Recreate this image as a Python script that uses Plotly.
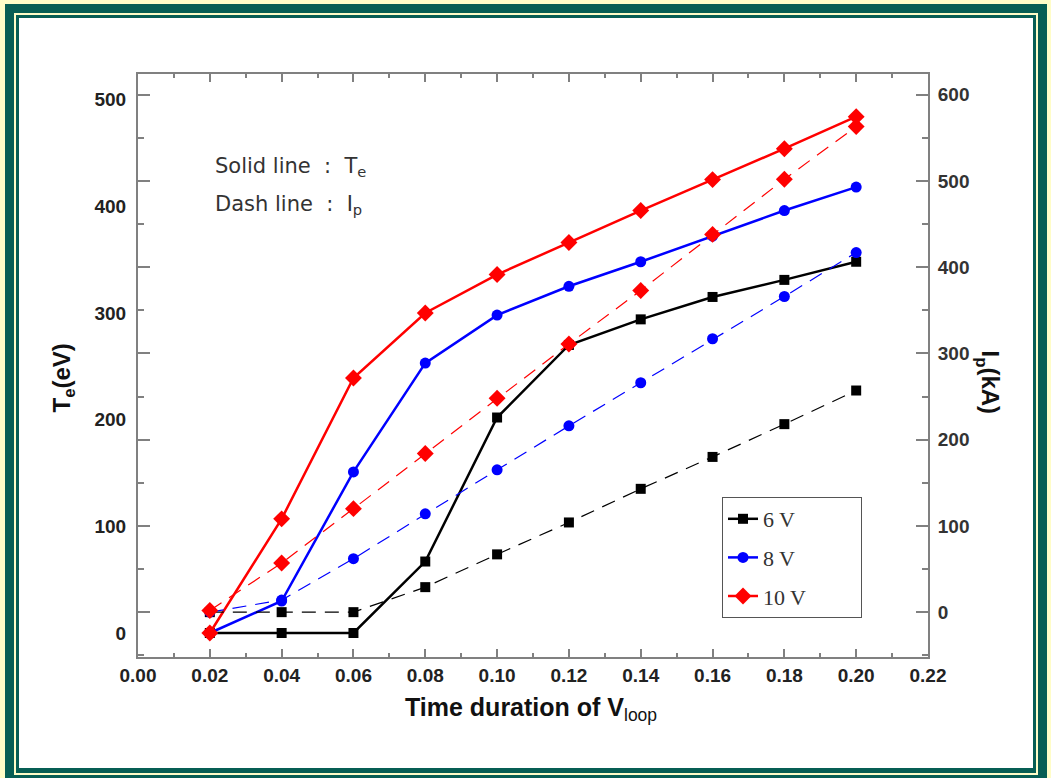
import plotly.graph_objects as go

# ---------------- data ----------------
time_s = [0.02, 0.04, 0.06, 0.08, 0.10, 0.12, 0.14, 0.16, 0.18, 0.20]
te_6v = [0, 0, 0, 67, 202, 270, 294, 315, 331, 348]
te_8v = [0, 30, 151, 253, 298, 325, 348, 372, 396, 418]
te_10v = [0, 107, 239, 300, 336, 366, 396, 425, 454, 484]
ip_6v = [0, 0, 0, 29, 67, 104, 143, 180, 218, 257]
ip_8v = [0, 14, 62, 114, 165, 216, 266, 317, 366, 417]
ip_10v = [2, 57, 120, 184, 248, 311, 373, 438, 502, 563]
series_names = ["6 V", "8 V", "10 V"]
x_ticks = [0.00, 0.02, 0.04, 0.06, 0.08, 0.10, 0.12, 0.14, 0.16, 0.18, 0.20, 0.22]
te_ticks = [0, 100, 200, 300, 400, 500]
ip_ticks = [0, 100, 200, 300, 400, 500, 600]

# ---------------- layout geometry ----------------
W, H = 1051, 778
L, R, T, B = 138, 123, 74, 121
PW, PH = W - L - R, H - T - B


def px(x):
    return (x - L) / PW


def py(y):
    return (H - B - y) / PH


TEAL = "#075E54"
PALE = "#FFFDC8"
AXC = "#808080"

colors = ["#000000", "#0000FF", "#FF0000"]
symbols = ["square", "circle", "diamond"]
msizes = [10, 11, 13]
te_all = [te_6v, te_8v, te_10v]
ip_all = [ip_6v, ip_8v, ip_10v]
PAD = "\u00a0" * 9

fig = go.Figure()
for name, c, s, ms, te, ip in zip(series_names, colors, symbols, msizes, te_all, ip_all):
    fig.add_trace(go.Scatter(
        x=time_s, y=ip, yaxis="y2", mode="lines+markers", name=name + PAD,
        legendgroup=name, showlegend=False,
        line=dict(color=c, width=1.2, dash="14px,9px"),
        marker=dict(symbol=s, size=ms, color=c),
    ))
for name, c, s, ms, te, ip in zip(series_names, colors, symbols, msizes, te_all, ip_all):
    fig.add_trace(go.Scatter(
        x=time_s, y=te, yaxis="y", mode="lines+markers", name=name + PAD,
        legendgroup=name, showlegend=True,
        line=dict(color=c, width=2.5),
        marker=dict(symbol=s, size=ms, color=c),
    ))

shapes = []


def rect(x0, y0, x1, y1, color):
    shapes.append(dict(type="rect", xref="paper", yref="paper",
                       x0=px(x0), x1=px(x1), y0=py(y1), y1=py(y0),
                       fillcolor=color, line=dict(width=0), layer="below"))


rect(5, 4, 1047, 800, TEAL)
rect(14, 13, 1038, 775, PALE)
rect(16, 15, 1036, 773, TEAL)
rect(19, 18, 1033, 768, "#FFFFFF")

tick_font = dict(family="Liberation Sans, Arial", size=19, color="#222222", weight="bold")

fig.update_layout(
    width=W, height=H,
    margin=dict(l=L, r=R, t=T, b=B),
    paper_bgcolor=PALE,
    plot_bgcolor="rgba(0,0,0,0)",
    shapes=shapes,
    showlegend=True,
    legend=dict(
        x=px(722), y=py(497), xanchor="left", yanchor="top",
        bgcolor="#FFFFFF", bordercolor="#555555", borderwidth=1,
        font=dict(family="Liberation Serif, Times New Roman", size=22, color="#333333"),
        tracegroupgap=7,
    ),
    xaxis=dict(
        range=[0, 0.22], tickvals=x_ticks, tickformat=".2f",
        ticks="inside", ticklen=8, tickwidth=1.5, tickcolor=AXC,
        minor=dict(dtick=0.01, ticks="inside", ticklen=4, tickwidth=1.5, tickcolor=AXC),
        showline=True, linecolor=AXC, linewidth=2, mirror="ticks",
        showgrid=False, zeroline=False, tickfont=tick_font,
    ),
    yaxis=dict(
        range=[-22.5, 524], tickvals=te_ticks, ticks="",
        showline=True, linecolor=AXC, linewidth=2,
        showgrid=False, zeroline=False, tickfont=tick_font,
        ticklabelstandoff=6,
    ),
    yaxis2=dict(
        range=[-52, 624], tickvals=ip_ticks, overlaying="y", side="right",
        ticks="inside", ticklen=12, tickwidth=1.5, tickcolor=AXC,
        minor=dict(dtick=50, ticks="inside", ticklen=6, tickwidth=1.5, tickcolor=AXC),
        showline=True, linecolor=AXC, linewidth=2, mirror="ticks",
        showgrid=False, zeroline=False,
        tickfont=dict(family="Liberation Sans, Arial", size=19, color="#333333", weight="bold"),
        ticklabelstandoff=4,
    ),
    annotations=[
        dict(text="T<sub>e</sub>(eV)", xref="paper", yref="paper",
             x=px(45), y=py(378), textangle=-90, showarrow=False,
             font=dict(family="Liberation Sans, Arial", size=24, color="#111111", weight="bold")),
        dict(text="I<sub>p</sub>(kA)", xref="paper", yref="paper",
             x=px(1006), y=py(382), textangle=90, showarrow=False,
             font=dict(family="Liberation Sans, Arial", size=24, color="#111111", weight="bold")),
        dict(text="Time duration of V<sub><span style='font-weight:normal'>loop</span></sub>",
             xref="paper", yref="paper", x=px(531), y=py(727), showarrow=False,
             font=dict(family="Liberation Sans, Arial", size=25, color="#111111", weight="bold")),
        dict(text="Solid line  :  T<sub>e</sub>", xref="paper", yref="paper",
             x=px(213), y=py(152), xanchor="left", showarrow=False,
             font=dict(family="DejaVu Sans", size=21, color="#333333")),
        dict(text="Dash line  :  I<sub>p</sub>", xref="paper", yref="paper",
             x=px(213), y=py(190), xanchor="left", showarrow=False,
             font=dict(family="DejaVu Sans", size=21, color="#333333")),
    ],
)

fig.write_html("out.html")
